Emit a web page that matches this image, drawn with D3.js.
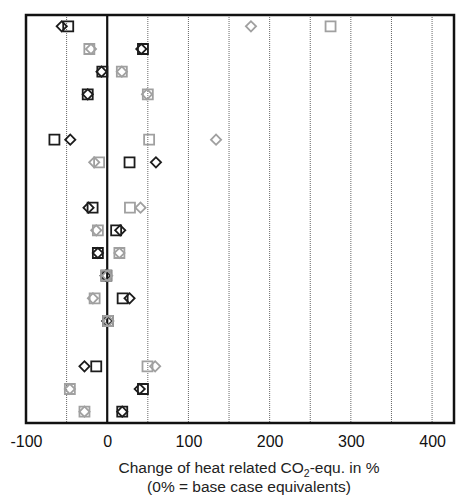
<!DOCTYPE html>
<html>
<head>
<meta charset="utf-8">
<script src="https://cdn.jsdelivr.net/npm/d3@7"></script>
<style>
  body { margin: 0; background: #fff; }
  text { font-family: "Liberation Sans", Arial, sans-serif; }
</style>
</head>
<body>
<svg id="chart" width="456" height="499"></svg>
<script>
// 18 row slots, null = empty gap between groups
var rows = d3.range(18);
var blackSquare  = [-48, 44, -6, -24, null, -65, 27.5, null, -18, 11, -11.5, -1, 19, 1, null, -13.5, 44, 18.5];
var blackDiamond = [-56, 42, -7, -24, null, -45.5, 60, null, -23, 16, -11.5, -2, 27.5, 0, null, -28, 40, 18.5];
var graySquare   = [275, -22, 18, 50, null, 51.6, -10, null, 28, -11.5, 15, -1.5, -15.5, 1, null, 49.6, -46, -28];
var grayDiamond  = [177, -20, 18, 49, null, 134, -16, null, 41, -13.5, 15, 0, -17.6, 1.5, null, 59, -46, -28];
var tickValues = [-100, 0, 100, 200, 300, 400];
var gridValues = [-50, 50, 100, 150, 200, 250, 300, 350, 400];

var svg = d3.select("#chart"),
    margin = {top: 15, right: 2, bottom: 76, left: 26},
    width = +svg.attr("width") - margin.left - margin.right,
    height = +svg.attr("height") - margin.top - margin.bottom,
    g = svg.append("g").attr("transform", "translate(" + margin.left + "," + margin.top + ")");

var x = d3.scaleLinear()
    .domain([-100, 427])
    .range([0, width]);

var y = d3.scalePoint()
    .domain(rows)
    .range([0, height])
    .padding(0.5);

// dotted grid
g.selectAll(".grid")
  .data(gridValues)
  .enter().append("line")
    .attr("x1", function(d) { return x(d); })
    .attr("x2", function(d) { return x(d); })
    .attr("y1", 0)
    .attr("y2", height)
    .attr("stroke", "#666")
    .attr("stroke-width", 1)
    .attr("stroke-dasharray", "1,1");

// zero line
g.append("line")
    .attr("x1", x(0))
    .attr("x2", x(0))
    .attr("y1", 0)
    .attr("y2", height)
    .attr("stroke", "#111")
    .attr("stroke-width", 2.2);

// x axis labels (plain hyphen for negatives, like the original)
var axis = g.append("g")
    .attr("transform", "translate(0," + height + ")")
    .call(d3.axisBottom(x).tickValues(tickValues).tickSize(0).tickPadding(13)
      .tickFormat(function(d) { return String(d); }));
axis.select(".domain").remove();
axis.selectAll("text")
    .attr("font-size", 16)
    .attr("font-family", "Liberation Sans, Arial, sans-serif")
    .attr("fill", "#111");

var square = d3.symbol().type(d3.symbolSquare).size(100);
var diamond = d3.symbol().type(d3.symbolSquare).size(52);

function drawMarkers(values, shape, color, rotate) {
  g.append("g").selectAll("path")
    .data(rows.filter(function(i) { return values[i] != null; }))
    .enter().append("path")
      .attr("d", shape)
      .attr("transform", function(i) {
        return "translate(" + x(values[i]) + "," + y(i) + ")" + (rotate ? " rotate(45)" : "");
      })
      .attr("fill", "none")
      .attr("stroke", color)
      .attr("stroke-width", 1.8);
}

// black first, gray drawn on top
drawMarkers(blackSquare, square, "#1c1c1c", false);
drawMarkers(blackDiamond, diamond, "#1c1c1c", true);
drawMarkers(graySquare, square, "#a0a0a0", false);
drawMarkers(grayDiamond, diamond, "#a0a0a0", true);

// frame
g.append("rect")
    .attr("x", 0)
    .attr("y", 0)
    .attr("width", width)
    .attr("height", height)
    .attr("fill", "none")
    .attr("stroke", "#111")
    .attr("stroke-width", 2.5);

// axis title
var title = svg.append("text")
    .attr("x", 249)
    .attr("y", 473)
    .attr("text-anchor", "middle")
    .attr("font-size", 15.5)
    .attr("fill", "#222");
title.append("tspan").text("Change of heat related CO");
title.append("tspan").attr("font-size", 10.5).attr("dy", 4).text("2");
title.append("tspan").attr("dy", -4).text("-equ. in %");

svg.append("text")
    .attr("x", 249)
    .attr("y", 492)
    .attr("text-anchor", "middle")
    .attr("font-size", 15.5)
    .attr("fill", "#222")
    .text("(0% = base case equivalents)");
</script>
</body>
</html>
